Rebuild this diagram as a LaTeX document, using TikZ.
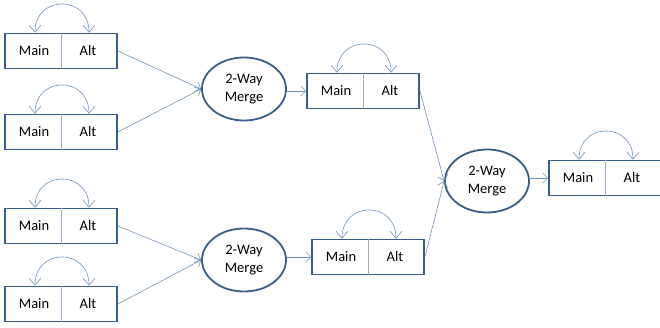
\documentclass[tikz,border=0pt]{standalone}
\usepackage{fontspec}
\setmainfont{Carlito}
\usetikzlibrary{arrows.meta,shapes.geometric}
\definecolor{boxblue}{HTML}{385D8A}
\definecolor{linkblue}{HTML}{6F93C0}
\definecolor{splitblue}{HTML}{93AECF}
\tikzset{
  txt/.style={font=\fontsize{14.5}{17.5}\selectfont, text=black, inner sep=0pt},
  regbox/.style={draw=boxblue, line width=1.8pt, minimum width=112pt, minimum height=35pt, inner sep=0pt},
  merge/.style={ellipse, draw=boxblue, line width=1.8pt, minimum width=84pt, minimum height=63pt,
    inner sep=0pt, align=center, txt},
  link/.style={draw=linkblue, line width=0.6pt, -{Straight Barb[length=5pt,width=10pt]}},
  swaparc/.style={draw=linkblue, line width=0.6pt,
    {Straight Barb[length=7pt,width=12pt]}-{Straight Barb[length=7pt,width=12pt]}},
  divider/.style={draw=splitblue, line width=0.6pt},
}
% a two-slot register: Main | Alt, with the swap arrow above
\newcommand{\regpair}[3]{%
  \node[regbox] (#1) at (#2,#3) {};
  \node[txt] (#1m) at ([xshift=-27pt]#1.center) {Main};
  \node[txt] (#1a) at ([xshift=27pt]#1.center) {Alt};
  \draw[divider] (#1.north) -- (#1.south);
  \coordinate (#1l) at ([xshift=-26pt]#1.north);
  \coordinate (#1r) at ([xshift=28pt]#1.north);
  \draw[swaparc] (#1l) .. controls ([yshift=38pt]#1l) and ([yshift=38pt]#1r) .. (#1r);
}
\begin{document}
\begin{tikzpicture}[x=1pt,y=-1pt]
  \useasboundingbox (0,0) rectangle (660,328);
  % input registers
  \regpair{A}{61}{51}
  \regpair{B}{61}{132}
  \regpair{C}{61}{226}
  \regpair{D}{61}{304}
  % first level merges
  \node[merge] (M1) at (244,89) {2-Way\\Merge};
  \node[merge] (M2) at (244,260) {2-Way\\Merge};
  % intermediate registers
  \regpair{E}{363}{91}
  \regpair{F}{368}{257}
  % final merge and output register
  \node[merge] (M3) at (487,181) {2-Way\\Merge};
  \regpair{G}{605}{178}
  % connectors
  \draw[link] (A.east) -- (M1.west);
  \draw[link] (B.east) -- (M1.west);
  \draw[link] (C.east) -- (M2.west);
  \draw[link] (D.east) -- (M2.west);
  \draw[link] (M1.east |- E.west) -- (E.west);
  \draw[link] (M2.east |- F.west) -- (F.west);
  \draw[link] (E.east) -- (M3.west);
  \draw[link] (F.east) -- (M3.west);
  \draw[link] (M3.east |- G.west) -- (G.west);
\end{tikzpicture}
\end{document}
